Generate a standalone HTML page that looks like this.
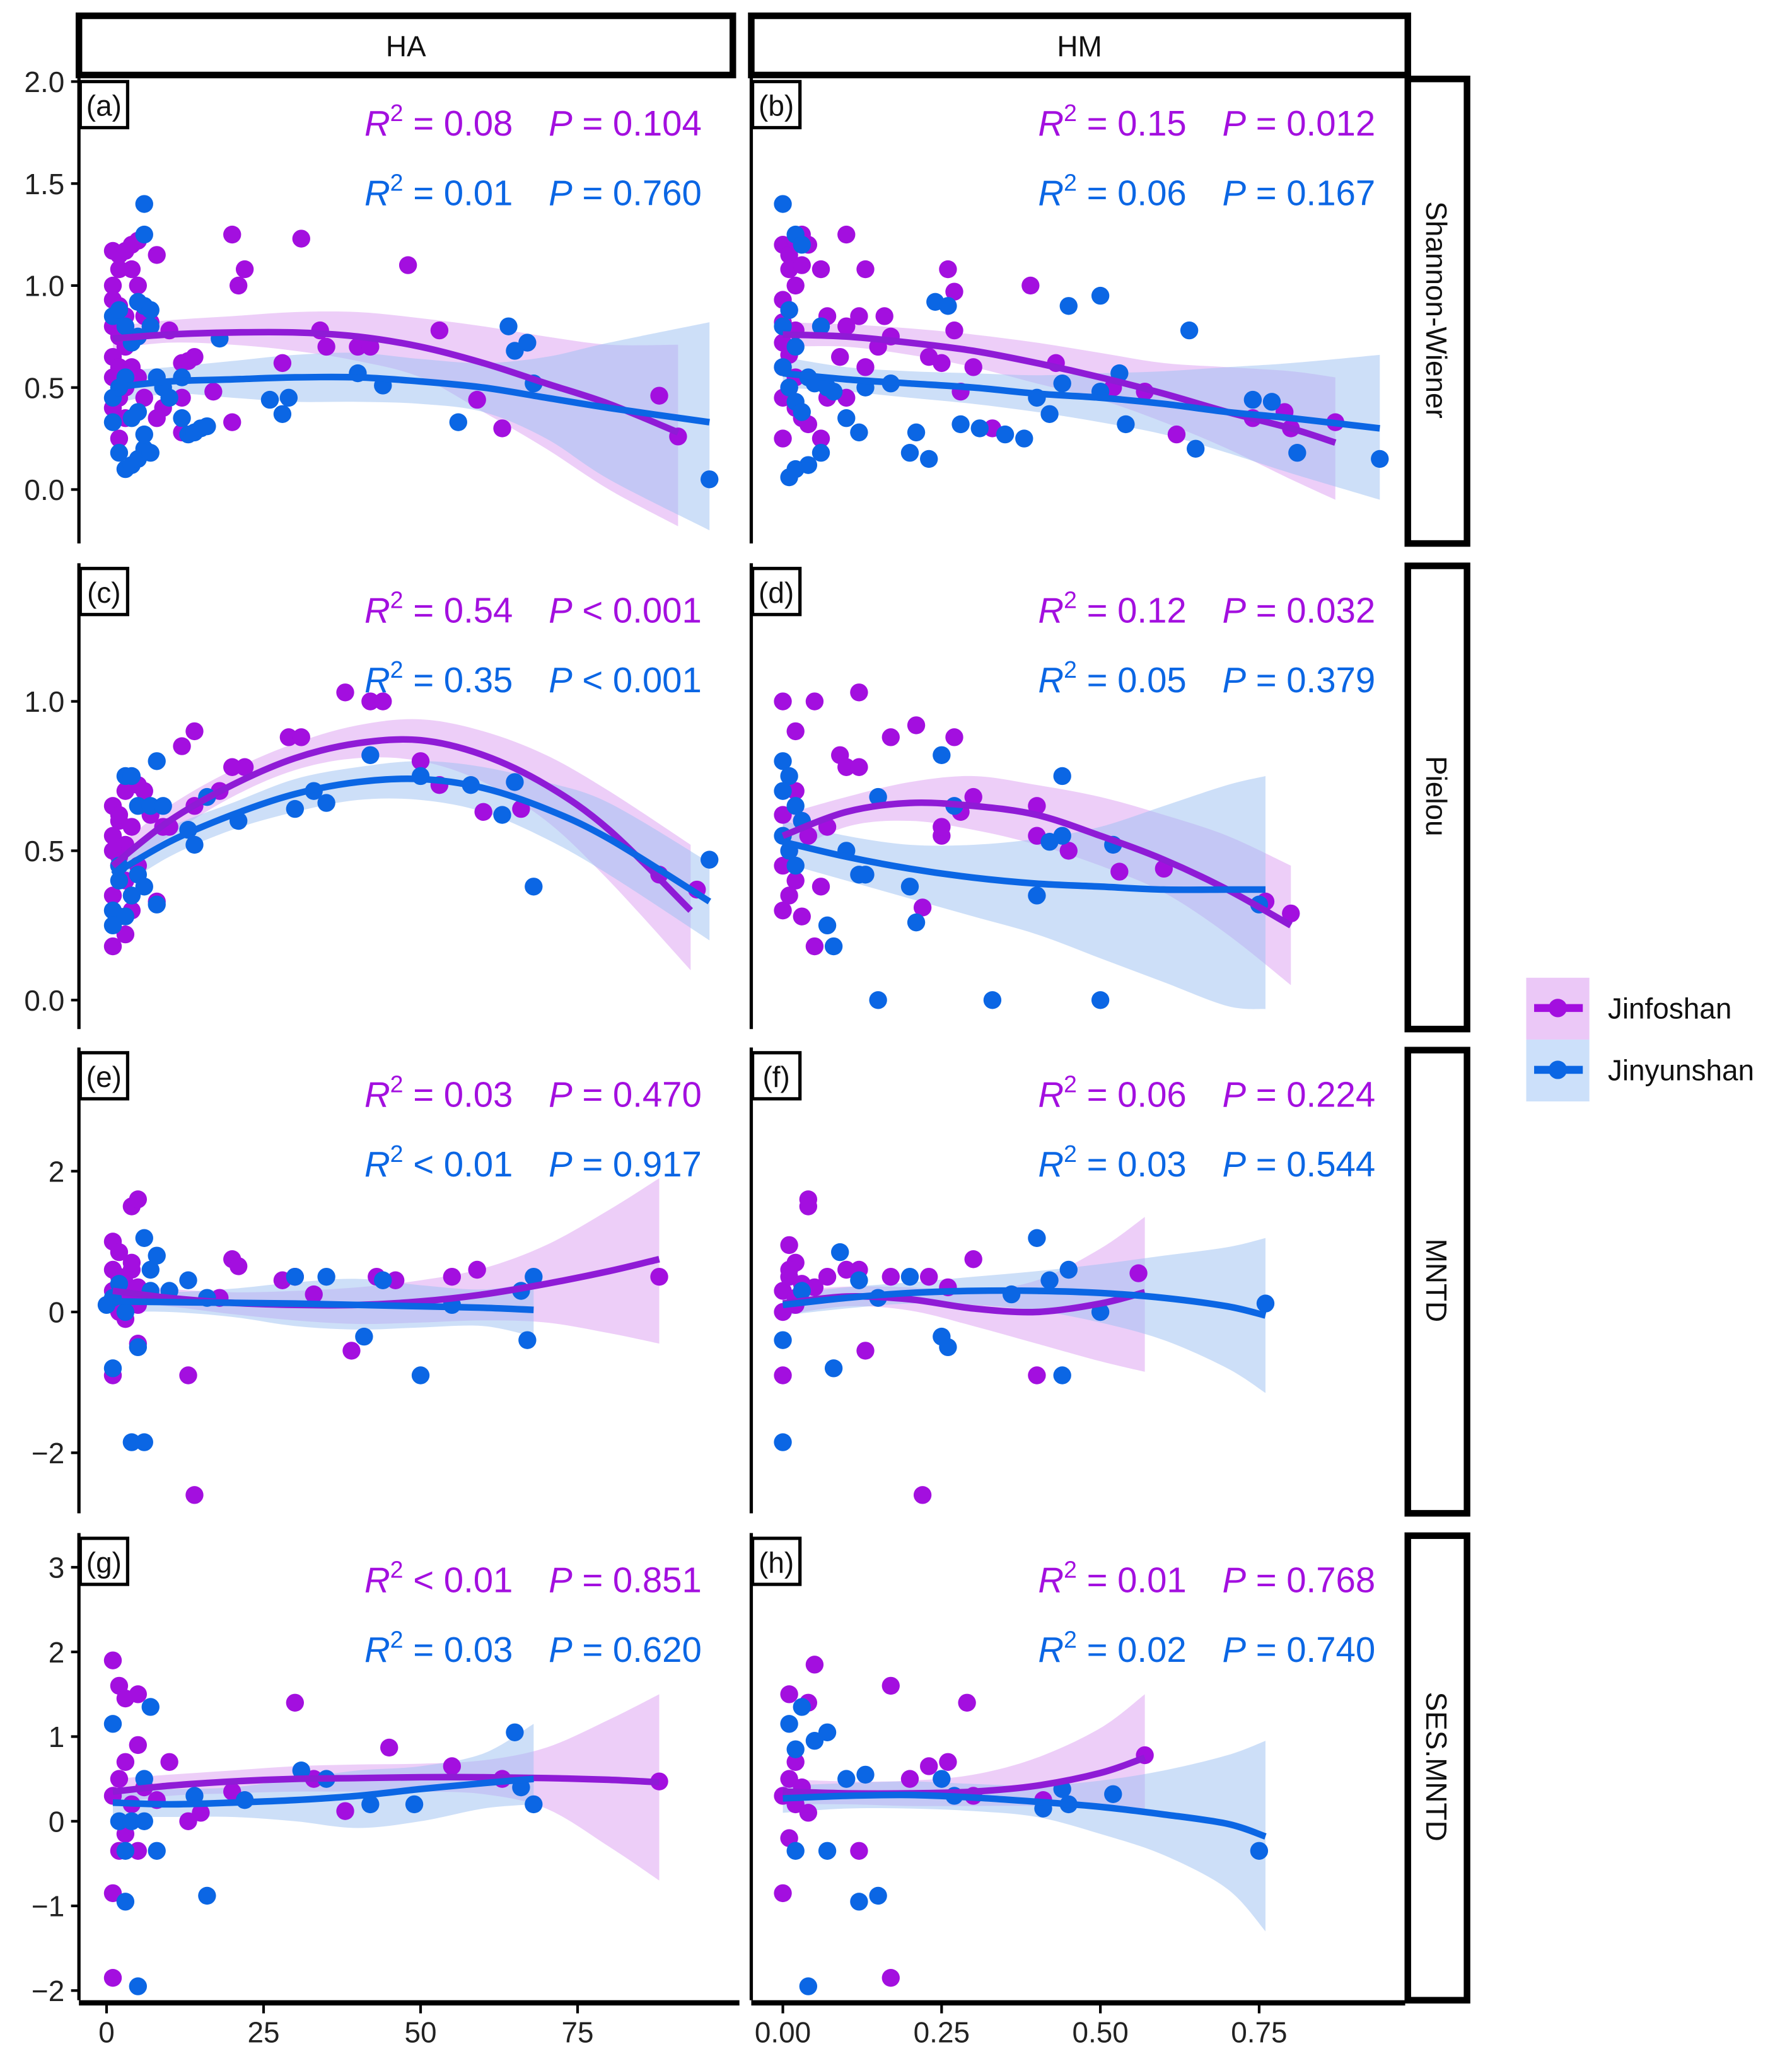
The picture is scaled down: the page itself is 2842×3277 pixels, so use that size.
<!DOCTYPE html>
<html><head><meta charset="utf-8"><style>
html,body{margin:0;padding:0;background:#fff;}
svg{display:block;font-family:"Liberation Sans",Arial,sans-serif;}
</style></head><body>
<svg id="chart" width="2842" height="3277" viewBox="0 0 1362 1570" preserveAspectRatio="none" xmlns="http://www.w3.org/2000/svg">
<g id="root"></g>
</svg>
<script>
const NS="http://www.w3.org/2000/svg";
// ---- data (purple = Jinfoshan, blue = Jinyunshan) ----
const aPx=[1,2,3,4,5,2,4,1,1,2,3,1,2,3,1,2,1,3,2,1,3,2,5,6,7,8,10,9,8,12,13,14,12,12,17,20,21,22,20,31,28,34,35,40,42,48,53,59,63,88,91,4,5,6,3];
const aPy=[1.17,1.15,1.17,1.2,1.22,1.08,1.08,1.0,0.93,0.9,0.85,0.8,0.75,0.7,0.65,0.6,0.55,0.5,0.45,0.4,0.35,0.25,1.0,0.85,0.82,1.15,0.78,0.4,0.35,0.62,0.63,0.65,0.45,0.28,0.48,1.25,1.0,1.08,0.33,1.23,0.62,0.78,0.7,0.7,0.7,1.1,0.78,0.44,0.3,0.46,0.26,0.6,0.55,0.45,0.5];
const aBx=[6,6,5,6,7,1,2,3,4,5,1,2,3,1,2,3,4,5,6,7,6,5,8,9,10,12,13,12,14,18,15,16,26,28,29,40,44,56,64,65,67,68,96,7,4];
const aBy=[1.4,1.25,0.92,0.9,0.88,0.85,0.88,0.8,0.72,0.75,0.45,0.5,0.55,0.33,0.18,0.1,0.12,0.15,0.2,0.18,0.27,0.38,0.55,0.5,0.45,0.35,0.27,0.55,0.28,0.74,0.3,0.31,0.44,0.37,0.45,0.57,0.51,0.33,0.8,0.68,0.72,0.52,0.05,0.8,0.35];
const aFitPx=[1,10,20,30,40,50,60,70,80,91];
const aFitP=[0.74,0.76,0.77,0.77,0.75,0.70,0.62,0.52,0.42,0.28];
const aLoP=[0.69,0.72,0.71,0.68,0.63,0.55,0.38,0.2,0.0,-0.18];
const aHiP=[0.8,0.83,0.85,0.87,0.87,0.84,0.80,0.75,0.71,0.71];
const aFitBx=[1,10,20,30,40,50,60,70,80,96];
const aFitB=[0.5,0.53,0.54,0.55,0.55,0.53,0.5,0.45,0.40,0.33];
const aLoB=[0.42,0.47,0.45,0.43,0.43,0.42,0.38,0.25,0.05,-0.2];
const aHiB=[0.58,0.6,0.63,0.66,0.67,0.64,0.62,0.65,0.72,0.82];

const bPx=[0,0.01,0.02,0.03,0.04,0.01,0.03,0.02,0,0.01,0,0.02,0,0.01,0,0.02,0.01,0,0.02,0.03,0,0.06,0.07,0.09,0.1,0.1,0.12,0.13,0.15,0.16,0.17,0.04,0.07,0.1,0.13,0.23,0.25,0.26,0.27,0.27,0.28,0.3,0.33,0.39,0.43,0.52,0.57,0.62,0.74,0.79,0.8,0.87,0.06];
const bPy=[1.2,1.15,1.22,1.25,1.2,1.08,1.1,1.0,0.93,0.88,0.82,0.78,0.72,0.66,0.6,0.55,0.5,0.45,0.4,0.35,0.25,1.08,0.85,0.65,0.8,1.25,0.85,1.08,0.7,0.85,0.75,0.32,0.45,0.45,0.6,0.65,0.62,1.08,0.97,0.78,0.48,0.6,0.3,1.0,0.62,0.5,0.48,0.27,0.35,0.38,0.3,0.33,0.25];
const bBx=[0,0.02,0.03,0.01,0,0.02,0,0.01,0.02,0.03,0.01,0.02,0.04,0.06,0.04,0.05,0.07,0.06,0.08,0.1,0.12,0.13,0.17,0.2,0.21,0.23,0.24,0.26,0.28,0.31,0.35,0.38,0.4,0.42,0.44,0.45,0.5,0.5,0.53,0.54,0.64,0.65,0.74,0.77,0.81,0.94];
const bBy=[1.4,1.25,1.2,0.88,0.8,0.7,0.6,0.5,0.43,0.38,0.06,0.1,0.12,0.18,0.55,0.52,0.5,0.8,0.48,0.35,0.28,0.5,0.52,0.18,0.28,0.15,0.92,0.9,0.32,0.3,0.27,0.25,0.45,0.37,0.52,0.9,0.48,0.95,0.57,0.32,0.78,0.2,0.44,0.43,0.18,0.15];
const bFitPx=[0,0.1,0.2,0.3,0.4,0.5,0.6,0.7,0.8,0.87];
const bFitP=[0.76,0.75,0.72,0.68,0.62,0.55,0.47,0.38,0.3,0.23];
const bLoP=[0.7,0.7,0.66,0.6,0.52,0.44,0.33,0.2,0.05,-0.05];
const bHiP=[0.82,0.81,0.79,0.76,0.72,0.67,0.62,0.6,0.58,0.55];
const bFitBx=[0,0.1,0.2,0.3,0.4,0.5,0.6,0.7,0.8,0.94];
const bFitB=[0.57,0.54,0.52,0.5,0.47,0.45,0.42,0.38,0.35,0.3];
const bLoB=[0.5,0.48,0.45,0.42,0.38,0.33,0.27,0.18,0.08,-0.05];
const bHiB=[0.65,0.6,0.58,0.57,0.56,0.57,0.58,0.6,0.62,0.66];

const cPx=[1,1,2,2,3,3,4,4,5,1,2,3,1,2,1,2,3,12,14,14,18,20,22,29,31,38,42,44,50,53,60,66,88,94,8,9,10,5,6,7];
const cPy=[0.65,0.55,0.6,0.48,0.52,0.4,0.58,0.3,0.45,0.35,0.28,0.22,0.18,0.45,0.5,0.62,0.7,0.85,0.9,0.65,0.7,0.78,0.78,0.88,0.88,1.03,1.0,1.0,0.8,0.72,0.63,0.64,0.42,0.37,0.33,0.58,0.58,0.72,0.7,0.62];
const cBx=[3,4,8,5,7,9,2,1,1,3,4,5,6,8,2,14,16,13,21,30,33,35,42,50,58,63,65,68,96];
const cBy=[0.75,0.75,0.8,0.65,0.65,0.65,0.45,0.3,0.25,0.28,0.35,0.42,0.38,0.32,0.4,0.52,0.68,0.57,0.6,0.64,0.7,0.66,0.82,0.75,0.72,0.62,0.73,0.38,0.47];
const cFitPx=[1,10,20,30,40,50,60,70,80,93];
const cFitP=[0.45,0.6,0.72,0.81,0.86,0.87,0.82,0.72,0.57,0.3];
const cLoP=[0.4,0.55,0.68,0.77,0.81,0.8,0.73,0.6,0.4,0.1];
const cHiP=[0.5,0.65,0.77,0.86,0.92,0.94,0.9,0.82,0.7,0.52];
const cFitBx=[1,10,20,30,40,50,60,70,80,96];
const cFitB=[0.42,0.53,0.62,0.69,0.73,0.74,0.71,0.64,0.54,0.33];
const cLoB=[0.36,0.48,0.57,0.63,0.67,0.67,0.63,0.54,0.42,0.2];
const cHiB=[0.48,0.58,0.66,0.74,0.78,0.8,0.78,0.73,0.66,0.46];

const dPx=[0,0.02,0.05,0.09,0.1,0.12,0.12,0.17,0.21,0.27,0.25,0.25,0.28,0.3,0.4,0.4,0.45,0.53,0.6,0.76,0.8,0.22,0.05,0.06,0.07,0.03,0,0,0.01,0.02,0.01,0.03,0,0.02,0.04];
const dPy=[1.0,0.9,1.0,0.82,0.78,0.78,1.03,0.88,0.92,0.88,0.55,0.58,0.63,0.68,0.65,0.55,0.5,0.43,0.44,0.33,0.29,0.31,0.18,0.38,0.58,0.6,0.3,0.45,0.5,0.4,0.35,0.28,0.62,0.7,0.55];
const dBx=[0,0.01,0,0.02,0.03,0,0.01,0.02,0.07,0.08,0.1,0.12,0.13,0.15,0.15,0.2,0.21,0.25,0.27,0.33,0.4,0.42,0.44,0.44,0.5,0.52,0.75];
const dBy=[0.8,0.75,0.7,0.65,0.6,0.55,0.5,0.45,0.25,0.18,0.5,0.42,0.42,0.68,0.0,0.38,0.26,0.82,0.65,0.0,0.35,0.53,0.55,0.75,0.0,0.52,0.32];
const dFitPx=[0,0.1,0.2,0.3,0.4,0.5,0.6,0.7,0.8];
const dFitP=[0.55,0.63,0.66,0.65,0.62,0.55,0.47,0.37,0.25];
const dLoP=[0.48,0.58,0.6,0.57,0.52,0.45,0.36,0.22,0.05];
const dHiP=[0.62,0.68,0.73,0.75,0.72,0.68,0.62,0.55,0.45];
const dFitBx=[0,0.1,0.2,0.3,0.4,0.5,0.6,0.7,0.76];
const dFitB=[0.53,0.48,0.44,0.41,0.39,0.38,0.37,0.37,0.37];
const dLoB=[0.46,0.4,0.34,0.28,0.22,0.14,0.06,-0.02,-0.03];
const dHiB=[0.6,0.55,0.52,0.52,0.54,0.58,0.65,0.72,0.75];

const ePx=[1,2,3,4,5,1,2,3,4,5,6,1,2,3,14,13,20,21,18,28,30,33,39,43,46,55,59,88,5,4,5,1,2];
const ePy=[0.3,0.5,0.2,0.6,0.1,-0.9,0.0,0.4,0.7,0.35,0.25,0.6,0.2,-0.1,-2.6,-0.9,0.75,0.65,0.2,0.45,0.5,0.25,-0.55,0.5,0.45,0.5,0.6,0.5,-0.45,1.5,1.6,1.0,0.85];
const eBx=[1,4,6,5,6,7,8,10,13,16,30,35,41,44,50,55,66,67,68,0,1,2,3,7];
const eBy=[-0.8,-1.85,-1.85,-0.5,1.05,0.6,0.8,0.3,0.45,0.2,0.5,0.5,-0.35,0.45,-0.9,0.1,0.3,-0.4,0.5,0.1,0.2,0.4,0.0,0.3];
const eFitPx=[1,10,20,30,40,50,60,70,80,88];
const eFitP=[0.3,0.2,0.13,0.1,0.1,0.15,0.25,0.4,0.58,0.75];
const eLoP=[0.15,0.08,-0.03,-0.12,-0.17,-0.15,-0.12,-0.15,-0.3,-0.45];
const eHiP=[0.45,0.33,0.28,0.3,0.35,0.45,0.62,0.95,1.45,1.9];
const eFitBx=[1,10,20,30,40,50,60,68];
const eFitB=[0.15,0.14,0.13,0.12,0.1,0.08,0.06,0.03];
const eLoB=[0.0,0.0,-0.07,-0.2,-0.25,-0.22,-0.2,-0.35];
const eHiB=[0.3,0.28,0.33,0.42,0.47,0.38,0.32,0.42];

const fPx=[0,0.01,0.02,0.03,0,0.01,0.02,0.04,0.04,0.1,0.12,0.13,0.17,0.22,0.23,0.26,0.3,0.4,0.56,0.07,0,0.02,0.05,0.01];
const fPy=[0.3,0.5,0.1,0.4,-0.9,0.95,0.7,1.6,1.5,0.6,0.6,-0.55,0.5,-2.6,0.5,0.35,0.75,-0.9,0.55,0.5,0.0,0.2,0.35,0.6];
const fBx=[0,0,0.08,0.09,0.12,0.15,0.2,0.25,0.26,0.36,0.4,0.42,0.44,0.45,0.5,0.76,0.03];
const fBy=[-1.85,-0.4,-0.8,0.85,0.45,0.2,0.5,-0.35,-0.5,0.25,1.05,0.45,-0.9,0.6,0.0,0.12,0.3];
const fFitPx=[0,0.1,0.2,0.3,0.4,0.5,0.57];
const fFitP=[0.12,0.22,0.18,0.05,0.0,0.12,0.28];
const fLoP=[-0.05,0.08,0.02,-0.2,-0.45,-0.7,-0.85];
const fHiP=[0.3,0.36,0.35,0.3,0.45,0.9,1.35];
const fFitBx=[0,0.1,0.2,0.3,0.4,0.5,0.6,0.7,0.76];
const fFitB=[0.1,0.2,0.27,0.3,0.3,0.27,0.2,0.08,-0.05];
const fLoB=[-0.05,0.05,0.12,0.1,0.02,-0.15,-0.4,-0.8,-1.15];
const fHiB=[0.25,0.35,0.42,0.5,0.58,0.68,0.8,0.92,1.05];

const gPx=[1,1,2,3,5,1,2,5,3,1,2,3,4,5,6,13,15,20,30,33,38,45,55,63,88,10,8];
const gPy=[1.9,-1.85,1.6,1.45,1.5,-0.85,-0.35,-0.35,-0.15,0.3,0.5,0.7,0.2,0.9,0.4,0.0,0.1,0.35,1.4,0.5,0.12,0.87,0.65,0.5,0.47,0.7,0.25];
const gBx=[1,3,3,5,7,8,16,6,14,22,31,35,42,49,65,66,68,2,4,6];
const gBy=[1.15,-0.95,-0.35,-1.95,1.35,-0.35,-0.88,0.5,0.3,0.25,0.6,0.5,0.2,0.2,1.05,0.4,0.2,0.0,0.0,0.0];
const gFitPx=[1,10,20,30,40,50,60,70,80,88];
const gFitP=[0.35,0.42,0.47,0.5,0.51,0.52,0.52,0.51,0.49,0.46];
const gLoP=[0.2,0.3,0.33,0.35,0.35,0.35,0.32,0.15,-0.3,-0.7];
const gHiP=[0.5,0.55,0.6,0.65,0.67,0.68,0.72,0.87,1.2,1.5];
const gFitBx=[1,10,20,30,40,50,60,68];
const gFitB=[0.22,0.2,0.22,0.25,0.3,0.38,0.45,0.5];
const gLoB=[0.05,0.05,0.05,0.0,-0.08,0.0,0.15,0.2];
const gHiB=[0.38,0.38,0.4,0.5,0.6,0.65,0.8,1.15];

const hPx=[0.05,0.04,0.01,0.17,0.29,0.17,0.12,0.26,0.23,0.2,0.3,0.41,0.57,0,0,0.01,0.02,0.03,0.02,0.01,0.04];
const hPy=[1.85,1.4,1.5,1.6,1.4,-1.85,-0.35,0.7,0.65,0.5,0.3,0.25,0.78,-0.85,0.3,0.5,0.2,0.4,0.7,-0.2,0.1];
const hBx=[0.01,0.03,0.02,0.05,0.07,0.04,0.12,0.15,0.07,0.02,0.1,0.13,0.25,0.27,0.41,0.44,0.45,0.52,0.75];
const hBy=[1.15,1.35,0.85,0.95,1.05,-1.95,-0.95,-0.88,-0.35,-0.35,0.5,0.55,0.5,0.3,0.15,0.38,0.2,0.32,-0.35];
const hFitPx=[0,0.1,0.2,0.3,0.4,0.5,0.57];
const hFitP=[0.35,0.33,0.33,0.35,0.42,0.57,0.75];
const hLoP=[0.2,0.2,0.18,0.18,0.18,0.15,0.1];
const hHiP=[0.5,0.47,0.48,0.55,0.75,1.1,1.5];
const hFitBx=[0,0.1,0.2,0.3,0.4,0.5,0.6,0.7,0.76];
const hFitB=[0.27,0.3,0.31,0.28,0.23,0.17,0.08,-0.03,-0.18];
const hLoB=[0.1,0.15,0.15,0.12,0.05,-0.15,-0.4,-0.8,-1.3];
const hHiB=[0.42,0.45,0.47,0.44,0.42,0.48,0.6,0.78,0.95];

const r2Purple=["= 0.08","= 0.15","= 0.54","= 0.12","= 0.03","= 0.06","< 0.01","= 0.01"];
const pPurple=["= 0.104","= 0.012","< 0.001","= 0.032","= 0.470","= 0.224","= 0.851","= 0.768"];
const r2Blue=["= 0.01","= 0.06","= 0.35","= 0.05","< 0.01","= 0.03","= 0.03","= 0.02"];
const pBlue=["= 0.760","= 0.167","< 0.001","= 0.379","= 0.917","= 0.544","= 0.620","= 0.740"];
const panelLetters=["(a)","(b)","(c)","(d)","(e)","(f)","(g)","(h)"];
const rowTitles=["Shannon-Wiener","Pielou","MNTD","SES.MNTD"];
const colTitles=["HA","HM"];
const haTicks=[0,25,50,75];
const hmTicks=[0,0.25,0.5,0.75];
const hmTickLabels=["0.00","0.25","0.50","0.75"];
const yTicksRows=[[0,0.5,1,1.5,2],[0,0.5,1],[-2,0,2],[-2,-1,0,1,2,3]];
const yTickLabelsRows=[["0.0","0.5","1.0","1.5","2.0"],["0.0","0.5","1.0"],["−2","0","2"],["−2","−1","0","1","2","3"]];

// ---- layout (viewBox units) ----
const rowTop=[58,428,796,1165], rowBot=[413,782,1150,1520];
const colL=[60,571], colR=[562,1068];
const yCal=[[0,372,2,62],[0,760,1,533],[0,997,2,890],[0,1384,3,1191]];
const xCal=[[0,81,75,439],[0,595,0.75,957]];
function xs(col,v){const c=xCal[col];return c[1]+(v-c[0])*(c[3]-c[1])/(c[2]-c[0]);}
function ys(row,v){const c=yCal[row];return c[1]+(v-c[0])*(c[3]-c[1])/(c[2]-c[0]);}

const PUR="#a30fdf", BLU="#0b66e4", PURL="#8f1bd6";
const root=document.getElementById('root');
function el(tag,attrs,parent){const e=document.createElementNS(NS,tag);for(const k in attrs)e.setAttribute(k,attrs[k]);(parent||root).appendChild(e);return e;}

const panels=[
 [aPx,aPy,aBx,aBy,aFitPx,aFitP,aLoP,aHiP,aFitBx,aFitB,aLoB,aHiB],
 [bPx,bPy,bBx,bBy,bFitPx,bFitP,bLoP,bHiP,bFitBx,bFitB,bLoB,bHiB],
 [cPx,cPy,cBx,cBy,cFitPx,cFitP,cLoP,cHiP,cFitBx,cFitB,cLoB,cHiB],
 [dPx,dPy,dBx,dBy,dFitPx,dFitP,dLoP,dHiP,dFitBx,dFitB,dLoB,dHiB],
 [ePx,ePy,eBx,eBy,eFitPx,eFitP,eLoP,eHiP,eFitBx,eFitB,eLoB,eHiB],
 [fPx,fPy,fBx,fBy,fFitPx,fFitP,fLoP,fHiP,fFitBx,fFitB,fLoB,fHiB],
 [gPx,gPy,gBx,gBy,gFitPx,gFitP,gLoP,gHiP,gFitBx,gFitB,gLoB,gHiB],
 [hPx,hPy,hBx,hBy,hFitPx,hFitP,hLoP,hHiP,hFitBx,hFitB,hLoB,hHiB]
];

function smoothPath(pts){
  let d="M"+pts[0][0]+","+pts[0][1];
  for(let i=0;i<pts.length-1;i++){
    const p0=pts[Math.max(0,i-1)],p1=pts[i],p2=pts[i+1],p3=pts[Math.min(pts.length-1,i+2)];
    const c1=[p1[0]+(p2[0]-p0[0])/6,p1[1]+(p2[1]-p0[1])/6];
    const c2=[p2[0]-(p3[0]-p1[0])/6,p2[1]-(p3[1]-p1[1])/6];
    d+=" C"+c1[0]+","+c1[1]+" "+c2[0]+","+c2[1]+" "+p2[0]+","+p2[1];
  }
  return d;
}
function ribbonPath(col,row,fx,lo,hi){
  const up=fx.map((x,i)=>[xs(col,x),ys(row,hi[i])]);
  const dn=fx.map((x,i)=>[xs(col,x),ys(row,lo[i])]).reverse();
  let d=smoothPath(up);
  d+=" L"+dn[0][0]+","+dn[0][1]+smoothPath(dn).replace(/^M[^ C]+/,"")+" Z";
  return d;
}

panels.forEach((p,idx)=>{
  const row=Math.floor(idx/2), col=idx%2;
  const g=el('g',{});
  
  
  const rp=el('path',{d:ribbonPath(col,row,p[4],p[6],p[7]),fill:"#dfa6f2","fill-opacity":"0.55"},g);
  
  
  const rb=el('path',{d:ribbonPath(col,row,p[8],p[10],p[11]),fill:"#9cc0f2","fill-opacity":"0.5"},g);
  
  
  p[0].forEach((x,i)=>{const c=el('circle',{cx:xs(col,x),cy:ys(row,p[1][i]),r:6.8,fill:PUR},g);
    
    });
  p[2].forEach((x,i)=>{const c=el('circle',{cx:xs(col,x),cy:ys(row,p[3][i]),r:6.8,fill:BLU},g);
    
    });
  const lp=el('path',{d:smoothPath(p[4].map((x,i)=>[xs(col,x),ys(row,p[5][i])])),fill:"none",stroke:PURL,"stroke-width":5},g);
  
  
  const lb=el('path',{d:smoothPath(p[8].map((x,i)=>[xs(col,x),ys(row,p[9][i])])),fill:"none",stroke:BLU,"stroke-width":5},g);
  
  
  const ax=el('line',{x1:colL[col],y1:rowTop[row],x2:colL[col],y2:rowBot[row],stroke:"#000","stroke-width":2.5},g);
  
  
  const lx=colL[col]+1, ly=rowTop[row]+4;
  const lr=el('rect',{x:lx,y:ly,width:36,height:35,fill:"#fff",stroke:"#000","stroke-width":2.5},g);
  
  
  const lt=el('text',{x:lx+18,y:ly+26,"font-size":22,"text-anchor":"middle",fill:"#111"},g);
  lt.textContent=panelLetters[idx];
  
  
  const off=col*512;
  [[r2Purple,pPurple,PUR,44],[r2Blue,pBlue,BLU,97]].forEach(s=>{
    const t=el('text',{x:277+off,y:rowTop[row]+s[3]+1,"font-size":27,fill:s[2]},g);
    t.innerHTML='<tspan font-style="italic">R</tspan><tspan dy="-11" font-size="18">2</tspan><tspan dy="11"> '+s[0][idx]+'</tspan>';
    
    
    const t2=el('text',{x:417+off,y:rowTop[row]+s[3]+1,"font-size":27,fill:s[2]},g);
    t2.innerHTML='<tspan font-style="italic">P</tspan> '+s[1][idx];
    
    
  });
  if(col===0){
    yTicksRows[row].forEach((v,i)=>{
      const y=ys(row,v);
      const tk=el('line',{x1:54,y1:y,x2:60,y2:y,stroke:"#000","stroke-width":2},g);
      
      
      const tl=el('text',{x:49,y:y+8,"font-size":22,"text-anchor":"end",fill:"#222"},g);
      tl.textContent=yTickLabelsRows[row][i];
      
      
    });
  }
});

colTitles.forEach((t,c)=>{
  const x0=[60,571][c], x1=[557,1070][c];
  const r=el('rect',{x:x0,y:12,width:x1-x0,height:45,fill:"#fff",stroke:"#000","stroke-width":5});
  
  
  const tx=el('text',{x:(x0+x1)/2,y:43,"font-size":22,"text-anchor":"middle",fill:"#111"});
  tx.textContent=t;
  
  
});
rowTitles.forEach((t,r)=>{
  const rr=el('rect',{x:1070,y:rowTop[r]+2,width:45,height:rowBot[r]-rowTop[r]-2,fill:"#fff",stroke:"#000","stroke-width":5});
  
  
  const cy=(rowTop[r]+rowBot[r])/2;
  const tx=el('text',{x:1092,y:cy,"font-size":22,"text-anchor":"middle",fill:"#111",transform:"rotate(90 1092 "+cy+") translate(0 8)"});
  tx.textContent=t;
  
  
});
[0,1].forEach(c=>{
  const xl=el('line',{x1:colL[c],y1:1522,x2:colR[c],y2:1522,stroke:"#000","stroke-width":4});
  
  
  const ticks=c?hmTicks:haTicks;
  ticks.forEach((v,i)=>{
    const x=xs(c,v);
    const tk=el('line',{x1:x,y1:1522,x2:x,y2:1530,stroke:"#000","stroke-width":2});
    
    
    const tl=el('text',{x:x,y:1552,"font-size":22,"text-anchor":"middle",fill:"#222"});
    tl.textContent=c?hmTickLabels[i]:String(v);
    
    
  });
});
const lg=el('g',{});


[["Jinfoshan","#ebc8f7",PUR,743],["Jinyunshan","#cce0fa",BLU,790]].forEach(L=>{
  const bx=el('rect',{x:1160,y:L[3],width:48,height:47,fill:L[1]},lg);
  
  
  const ln=el('line',{x1:1166,y1:L[3]+23,x2:1203,y2:L[3]+23,stroke:L[2],"stroke-width":6},lg);
  
  
  const dt=el('circle',{cx:1184,cy:L[3]+23,r:7,fill:L[2]},lg);
  
  
  const tx=el('text',{x:1222,y:L[3]+31,"font-size":22,fill:"#111"},lg);
  tx.textContent=L[0];
  
  
});
</script>
</body></html>
